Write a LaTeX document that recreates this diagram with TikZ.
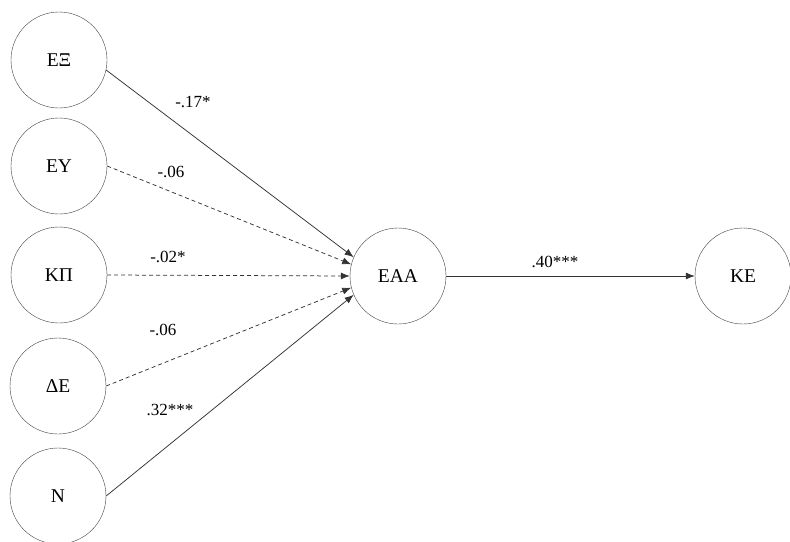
\documentclass[tikz,border=0pt]{standalone}
\usepackage{fontspec}
\setmainfont{Liberation Serif}
\usetikzlibrary{arrows.meta}

\begin{document}
\begin{tikzpicture}[x=1pt,y=-1pt,
  var/.style={draw=black!75,circle,minimum size=96pt,inner sep=0pt,font=\fontsize{19.5}{20}\selectfont},
  link/.style={draw=black!80,line width=0.75pt,-{Latex[length=9pt,width=7pt]}},
  weak/.style={link,dash pattern=on 4pt off 3pt},
  coef/.style={font=\fontsize{17}{17}\selectfont,inner sep=0pt}]
\useasboundingbox (0,0) rectangle (790,541);
\node[var](EX) at (59,60) {ΕΞ};
\node[var](EY) at (59,166) {ΕΥ};
\node[var](KP) at (59,275) {ΚΠ};
\node[var](DE) at (58,386) {ΔΕ};
\node[var](N) at (58,496) {Ν};
\node[var](EAA) at (398,276) {ΕΑΑ};
\node[var](KE) at (743,276) {ΚΕ};
\draw[link] (EX.-12) -- (EAA.157);
\draw[weak] (EY.east) -- (EAA.166);
\draw[weak] (KP.east) -- (EAA.180);
\draw[weak] (DE.east) -- (EAA.194);
\draw[link] (N.east) -- (EAA.203);
\draw[link] (EAA) -- (KE);
\node[coef](c1) at (193,102) {-.17*};
\node[coef](c2) at (171,172) {-.06};
\node[coef](c3) at (168,257) {-.02*};
\node[coef](c4) at (163,330) {-.06};
\node[coef](c5) at (170,410) {.32***};
\node[coef](c6) at (555,262) {.40***};
\end{tikzpicture}
\end{document}
